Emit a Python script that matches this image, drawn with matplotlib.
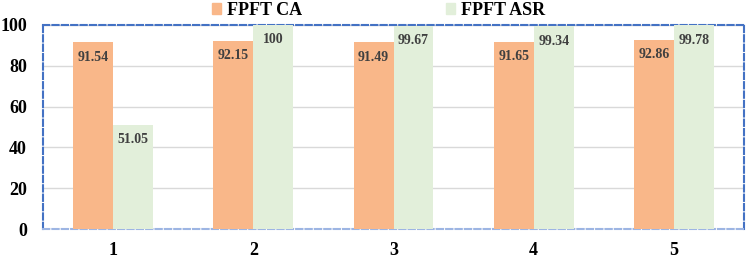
import matplotlib
matplotlib.use("Agg")
import matplotlib.pyplot as plt
import numpy as np
from matplotlib.patches import Patch

categories = ["1", "2", "3", "4", "5"]
ca = [91.54, 92.15, 91.49, 91.65, 92.86]
asr = [51.05, 100, 99.67, 99.34, 99.78]
ca_labels = ["91.54", "92.15", "91.49", "91.65", "92.86"]
asr_labels = ["51.05", "100", "99.67", "99.34", "99.78"]
yticks = [0, 20, 40, 60, 80, 100]

plt.rcParams['font.family'] = ['Liberation Serif', 'DejaVu Serif']
plt.rcParams['font.weight'] = 'bold'

fig = plt.figure(figsize=(7.47, 2.59), dpi=100)
ax = fig.add_axes([0.0576, 0.1158, 0.9384, 0.7877])

x = np.arange(len(categories))
w = 0.285
c_ca = '#F9B789'
c_asr = '#E2EFDA'
b1 = ax.bar(x - w/2, ca, w, color=c_ca, zorder=3)
b2 = ax.bar(x + w/2, asr, w, color=c_asr, zorder=3)

for bars, labs in ((b1, ca_labels), (b2, asr_labels)):
    for r, lab in zip(bars, labs):
        ax.annotate(lab, (r.get_x() + r.get_width()/2, r.get_height()),
                    xytext=(0, -6), textcoords='offset points',
                    ha='center', va='top', fontsize=10, fontweight='bold',
                    color='#404040', zorder=4)

ax.set_xlim(-0.5, 4.5)
ax.set_ylim(0, 100)
ax.set_yticks(yticks)
ax.set_xticks(x)
ax.set_xticklabels(categories)
ax.tick_params(axis='both', length=0, labelsize=13)
ax.tick_params(axis='y', pad=11.5)
ax.tick_params(axis='x', pad=9)
for t in ax.get_xticklabels() + ax.get_yticklabels():
    t.set_fontweight('bold')
ax.yaxis.grid(True, color='#D9D9D9', lw=1, zorder=0)
ax.set_axisbelow(True)

for s in ['left', 'right', 'top']:
    ax.spines[s].set_color('#4472C4')
    ax.spines[s].set_linewidth(1.5)
    ax.spines[s].set_linestyle((0, (3, 1.5)))
ax.spines['bottom'].set_color('#9DB5E3')
ax.spines['bottom'].set_linewidth(1.5)
ax.spines['bottom'].set_linestyle((0, (3, 1.5)))

handles = [Patch(color=c_ca, label='FPFT CA'), Patch(color=c_asr, label='FPFT ASR')]
fig.legend(handles=handles, loc='center', bbox_to_anchor=(0.507, 0.96), ncol=2,
           frameon=False, handlelength=0.5, handleheight=0.5,
           handletextpad=0.3, columnspacing=8.0, prop={'weight': 'bold', 'size': 13})

fig.savefig('out.png', dpi=100)
